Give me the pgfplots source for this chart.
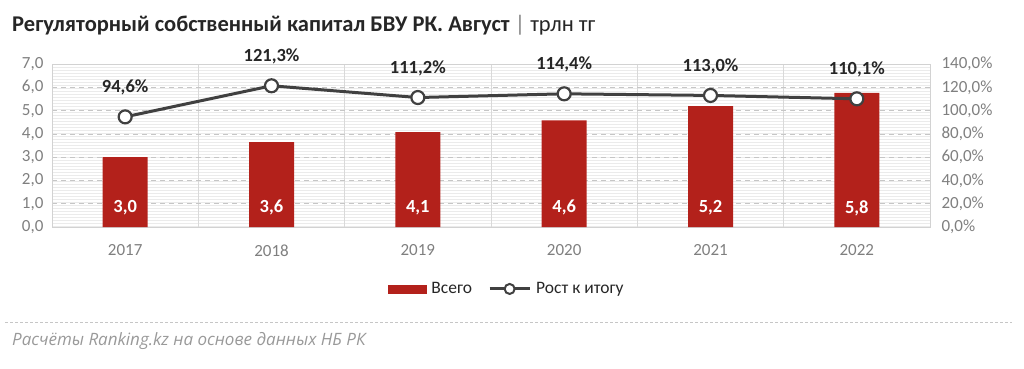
\documentclass[border=0pt]{standalone}
\usepackage{pgfplots}
\pgfplotsset{compat=1.18}
\usetikzlibrary{patterns}
\usepackage{fontspec}
\setmainfont{Carlito}
\newfontfamily\footfont{Open Sans}
\definecolor{barred}{HTML}{B3211B}
\definecolor{linegray}{HTML}{404040}
\definecolor{tickgray}{HTML}{7F7F7F}
\definecolor{titlec}{HTML}{262626}
\begin{document}
\begin{tikzpicture}[x=1pt,y=1pt]
\path[use as bounding box] (0,0) rectangle (1024,368);
\node[anchor=base west, inner sep=0, text=titlec, font=\fontsize{22.5}{24}\selectfont\bfseries] at (12,337)
  {Регуляторный собственный капитал БВУ РК. Август {\mdseries\color{tickgray}|} \mdseries трлн тг};

\begin{axis}[
  at={(52pt,141pt)}, anchor=south west, width=878pt, height=163pt, scale only axis,
  xmin=-0.5, xmax=5.5, ymin=0, ymax=7,
  xtick={0,1,2,3,4,5}, xticklabels={2017,2018,2019,2020,2021,2022},
  minor xtick={0.5,1.5,2.5,3.5,4.5},
  ytick={0,1,...,7}, ytick pos=left, xtick pos=bottom,
  major tick length=0pt, minor tick length=0pt,
  axis line style={gray!35, line width=0.6pt},
  axis background/.style={pattern=horizontal lines, pattern color=black!8},
  ymajorgrids, major grid style={gray!45, dash pattern=on 5pt off 4pt, line width=0.6pt},
  xminorgrids, minor grid style={gray!30, line width=0.6pt},
  tick label style={text=tickgray, font=\fontsize{17}{19}\selectfont},
  xticklabel style={yshift=-14pt},
  yticklabel style={xshift=-5pt},
  yticklabel={\pgfmathprintnumber[fixed,fixed zerofill,precision=1,use comma,assume math mode=true]{\tick}},
]
\addplot[ybar, bar width=45pt, fill=barred, draw=none] coordinates {
  (0,3.0) (1,3.65) (2,4.07) (3,4.58) (4,5.19) (5,5.76)};
\addplot[draw=none, mark=none, point meta=explicit, nodes near coords,
  nodes near coords style={anchor=center, text=white, font=\fontsize{18.5}{20}\selectfont\bfseries},
  nodes near coords={\pgfmathprintnumber[fixed,fixed zerofill,precision=1,use comma,assume math mode=true]{\pgfplotspointmeta}}]
  coordinates {(0,0.82)[3.0] (1,0.82)[3.6] (2,0.82)[4.1] (3,0.82)[4.6] (4,0.82)[5.2] (5,0.82)[5.8]};
\end{axis}

\begin{axis}[
  at={(52pt,141pt)}, anchor=south west, width=878pt, height=163pt, scale only axis,
  xmin=-0.5, xmax=5.5, ymin=0, ymax=140,
  ytick={0,20,...,140},
  axis y line*=right, axis x line=none,
  axis line style={draw=none},
  major tick length=0pt, clip=false,
  tick label style={text=tickgray, font=\fontsize{17}{19}\selectfont},
  yticklabel style={xshift=8pt},
  yticklabel={\pgfmathprintnumber[fixed,fixed zerofill,precision=1,use comma,assume math mode=true]{\tick}\%},
  legend style={at={(0.518,-0.38)}, anchor=center, draw=none, fill=none,
    font=\fontsize{17.5}{19}\selectfont, text=titlec,
    /tikz/every even column/.append style={column sep=14pt},
    /tikz/every odd column/.append style={column sep=3pt}},
  legend columns=2,
]
\addlegendimage{legend image code/.code={\fill[barred] (0pt,-4pt) rectangle (38pt,4pt);}}
\addlegendentry{Всего}
\addplot[linegray, line width=3pt, mark=*, mark size=6.5pt,
  mark options={fill=white, draw=linegray, line width=2.2pt},
  point meta=explicit, nodes near coords,
  nodes near coords style={anchor=center, yshift=29pt, text=titlec, font=\fontsize{18.5}{20}\selectfont\bfseries},
  nodes near coords={\pgfmathprintnumber[fixed,fixed zerofill,precision=1,use comma,assume math mode=true]{\pgfplotspointmeta}\%},
  legend image code/.code={\draw[linegray, line width=3pt] (0pt,0pt) -- (40pt,0pt);
    \draw[linegray, line width=2pt, fill=white] (20pt,0pt) circle (5pt);}]
  coordinates {(0,94.6)[94.6] (1,121.3)[121.3] (2,111.2)[111.2] (3,114.4)[114.4] (4,113.0)[113.0] (5,110.1)[110.1]};
\addlegendentry{Рост к итогу}
\end{axis}

\draw[gray!45, dash pattern=on 3pt off 2pt, line width=0.6pt] (5,46) -- (1012,46);
\node[anchor=base west, inner sep=0, text=gray!80, font=\footfont\itshape\fontsize{17}{19}\selectfont] at (12,23)
  {Расчёты Ranking.kz на основе данных НБ РК};
\end{tikzpicture}
\end{document}
